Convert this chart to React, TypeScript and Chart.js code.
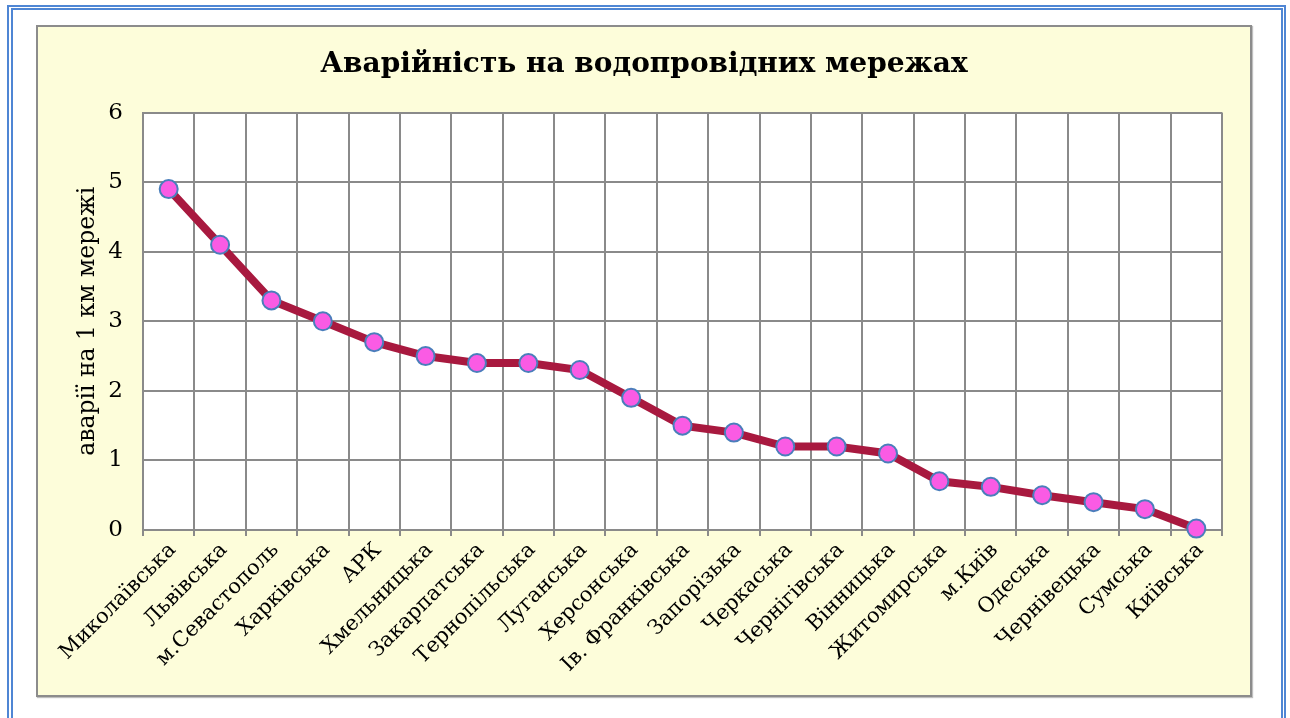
import React, { useEffect, useRef } from "react";
import { Chart, registerables } from "chart.js";

Chart.register(...registerables);

const categories = [
  "Миколаївська", "Львівська", "м.Севастополь", "Харківська", "АРК", "Хмельницька",
  "Закарпатська", "Тернопільська", "Луганська", "Херсонська", "Ів. Франківська",
  "Запорізька", "Черкаська", "Чернігівська", "Вінницька", "Житомирська", "м.Київ",
  "Одеська", "Чернівецька", "Сумська", "Київська",
];
const values = [4.9, 4.1, 3.3, 3.0, 2.7, 2.5, 2.4, 2.4, 2.3, 1.9, 1.5, 1.4, 1.2, 1.2, 1.1, 0.7, 0.62, 0.5, 0.4, 0.3, 0.02];
const titleText = "Аварійність на водопровідних мережах";
const yTitle = "аварії на 1 км мережі";

const FONT = "'DejaVu Serif', 'Liberation Serif', serif";

const plotBg = {
  id: "plotBg",
  beforeDraw(chart: any) {
    const { ctx, chartArea } = chart;
    ctx.save();
    ctx.fillStyle = "#ffffff";
    ctx.fillRect(chartArea.left, chartArea.top, chartArea.right - chartArea.left, chartArea.bottom - chartArea.top);
    ctx.restore();
  },
};

export default function App() {
  const ref = useRef<HTMLCanvasElement>(null);
  useEffect(() => {
    if (!ref.current) return;
    const chart = new Chart(ref.current, {
      type: "line",
      data: {
        labels: categories,
        datasets: [
          {
            data: values,
            borderColor: "#A8193F",
            borderWidth: 8,
            pointBackgroundColor: "#FA5BE4",
            pointBorderColor: "#4A7EBB",
            pointBorderWidth: 2,
            pointRadius: 9,
            tension: 0,
            clip: false as any,
          },
        ],
      },
      options: {
        animation: false,
        responsive: false,
        layout: { padding: { left: 28, right: 28, top: 0, bottom: 0 } },
        plugins: {
          legend: { display: false },
          tooltip: { enabled: false },
          title: {
            display: true,
            text: titleText,
            color: "#000",
            font: { family: FONT, size: 28, weight: "bold", lineHeight: 1.2 },
            padding: { top: 21, bottom: 31 },
          },
        },
        scales: {
          x: {
            offset: true,
            grid: { color: "#8a8a8a", lineWidth: 2, offset: true, drawTicks: true, tickLength: 6 },
            border: { color: "#8a8a8a", width: 2 },
            ticks: {
              color: "#000",
              font: { family: FONT, size: 21 },
              maxRotation: 45,
              minRotation: 45,
              autoSkip: false,
              padding: 2,
              labelOffset: 4,
            },
            afterFit: (s: any) => { s.height = 165; },
          },
          y: {
            min: 0,
            max: 6,
            grid: { color: "#8a8a8a", lineWidth: 2, drawTicks: false },
            border: { color: "#8a8a8a", width: 2 },
            ticks: { stepSize: 1, color: "#000", font: { family: FONT, size: 23 }, padding: 20 },
            title: {
              display: true,
              text: yTitle,
              color: "#000",
              font: { family: FONT, size: 23.5, lineHeight: 1.2 },
              padding: { top: 8, bottom: 0 },
            },
            afterFit: (s: any) => { s.width = 77; },
          },
        },
      },
      plugins: [plotBg],
    });
    return () => chart.destroy();
  }, []);

  return (
    <div style={{ position: "fixed", left: 0, top: 0, width: 1290, height: 718, background: "#fff", overflow: "hidden" }}>
      <div style={{ position: "absolute", left: 7, top: 5, width: 1279, height: 760, borderTop: "5px double #4F86D4", borderLeft: "6px double #4F86D4", borderRight: "5px double #4F86D4", boxSizing: "border-box" }} />
      <div style={{ position: "absolute", left: 36, top: 25, width: 1216, height: 672, boxSizing: "border-box", border: "2px solid #8c8c8c", background: "#FDFDDA", boxShadow: "1px 1px 1px rgba(0,0,0,0.25)" }}>
        <canvas ref={ref} width={1212} height={668} style={{ display: "block", width: 1212, height: 668 }} />
      </div>
    </div>
  );
}
